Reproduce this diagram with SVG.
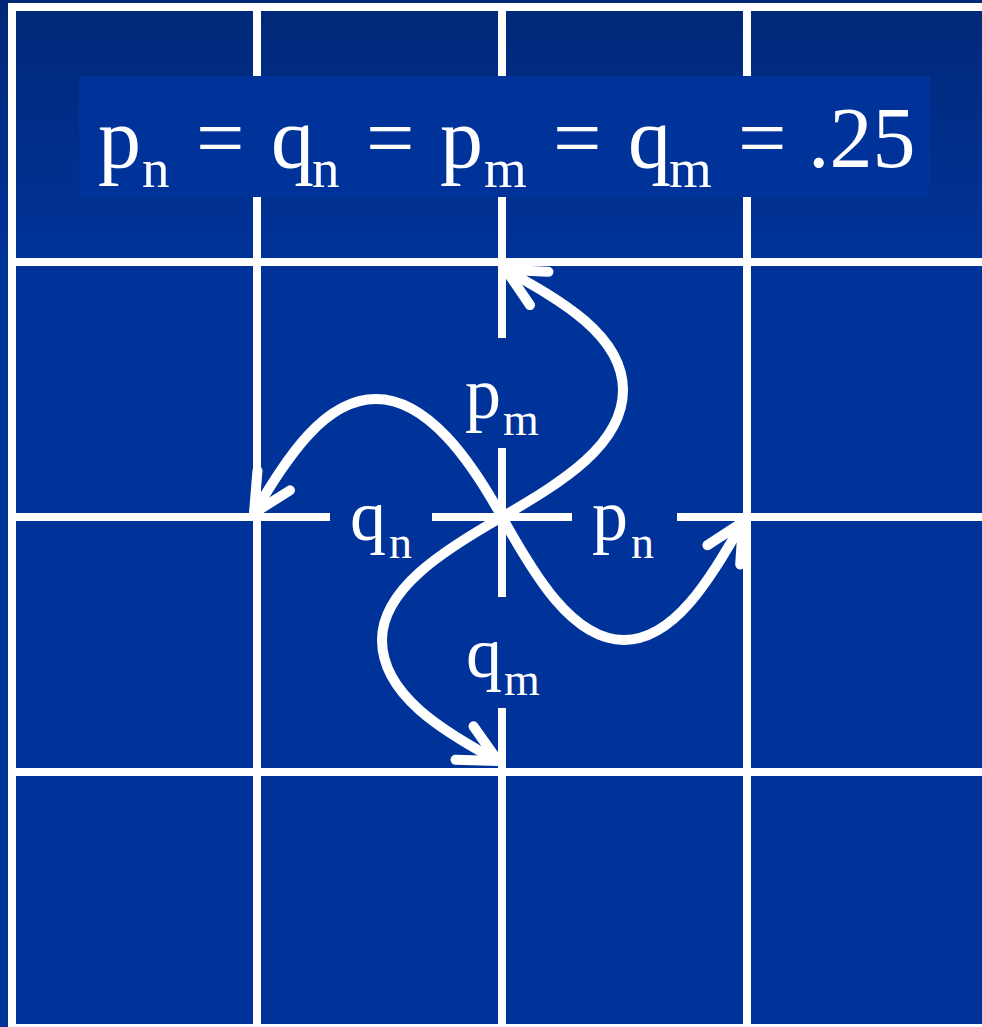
<svg xmlns="http://www.w3.org/2000/svg" width="982" height="1027" viewBox="0 0 982 1027">
  <defs>
    <linearGradient id="bg" x1="0" y1="0" x2="0" y2="1027" gradientUnits="userSpaceOnUse">
      <stop offset="0" stop-color="#002877"/>
      <stop offset="0.25" stop-color="#003399"/>
      <stop offset="1" stop-color="#003399"/>
    </linearGradient>
    <marker id="arr" markerUnits="userSpaceOnUse" orient="auto" refX="0" refY="0" markerWidth="60" markerHeight="60" overflow="visible">
      <path d="M-38,-19 L0,0 L-38,19" fill="none" stroke="#ffffff" stroke-width="10" stroke-linecap="round" stroke-linejoin="round"/>
    </marker>
    <style>
      .grid line { stroke: #ffffff; stroke-width: 8; }
      .conn path { fill: none; stroke: #ffffff; stroke-width: 10; stroke-linecap: round; marker-end: url(#arr); }
      .t { font-family: "Liberation Serif", "Times New Roman", serif; fill: #ffffff; }
      .big { font-size: 86px; }
      .bsub { font-size: 55px; }
      .lab { font-size: 72px; }
      .lsub { font-size: 46px; }
    </style>
  </defs>

  <rect x="0" y="0" width="982" height="1027" fill="url(#bg)"/>

  <g id="grid" class="grid">
    <line x1="8" y1="7" x2="982" y2="7"/>
    <line x1="8" y1="262" x2="982" y2="262"/>
    <line x1="8" y1="772" x2="982" y2="772"/>
    <line x1="8" y1="1028" x2="982" y2="1028"/>
    <line x1="12" y1="517" x2="330" y2="517"/>
    <line x1="432" y1="517" x2="572" y2="517"/>
    <line x1="677" y1="517" x2="982" y2="517"/>
    <line x1="12" y1="3" x2="12" y2="1027"/>
    <line x1="257" y1="3" x2="257" y2="1027"/>
    <line x1="747" y1="3" x2="747" y2="1027"/>
    <line x1="502" y1="3" x2="502" y2="338"/>
    <line x1="502" y1="448" x2="502" y2="597"/>
    <line x1="502" y1="708" x2="502" y2="1027"/>
  </g>

  <g id="title">
    <rect x="79" y="76" width="851" height="121" fill="#003399"/>
    <text class="t big" x="98" y="167">p</text>
    <text class="t bsub" x="142" y="187">n</text>
    <text class="t big" x="196" y="167">=</text>
    <text class="t big" x="271" y="167">q</text>
    <text class="t bsub" x="312" y="187">n</text>
    <text class="t big" x="366" y="167">=</text>
    <text class="t big" x="440" y="167">p</text>
    <text class="t bsub" x="484" y="187">m</text>
    <text class="t big" x="553" y="167">=</text>
    <text class="t big" x="628" y="167">q</text>
    <text class="t bsub" x="669" y="187">m</text>
    <text class="t big" x="738" y="167">=</text>
    <text class="t big" x="808" y="167">.25</text>
  </g>

  <g id="connectors" class="conn">
    <path id="c-pm" d="M502,517 C562,482 623,445 623,390 C623,335 560,300 506,270"/>
    <path id="c-pn" d="M502,517 C533,573 572,640 624,640 C676,640 712,575 743,522"/>
    <path id="c-qm" d="M502,517 C444,550 382,589 382,640 C382,695 444,732 498,761"/>
    <path id="c-qn" d="M502,517 C471,461 428,399 376,399 C324,399 288,457 254,513"/>
  </g>

  <g id="label-pm">
    <text class="t lab" x="465" y="418">p</text>
    <text class="t lsub" x="503" y="435">m</text>
  </g>
  <g id="label-qn">
    <text class="t lab" x="350" y="540">q</text>
    <text class="t lsub" x="389" y="558">n</text>
  </g>
  <g id="label-pn">
    <text class="t lab" x="592" y="540">p</text>
    <text class="t lsub" x="631" y="558">n</text>
  </g>
  <g id="label-qm">
    <text class="t lab" x="466" y="677">q</text>
    <text class="t lsub" x="504" y="695">m</text>
  </g>
</svg>
